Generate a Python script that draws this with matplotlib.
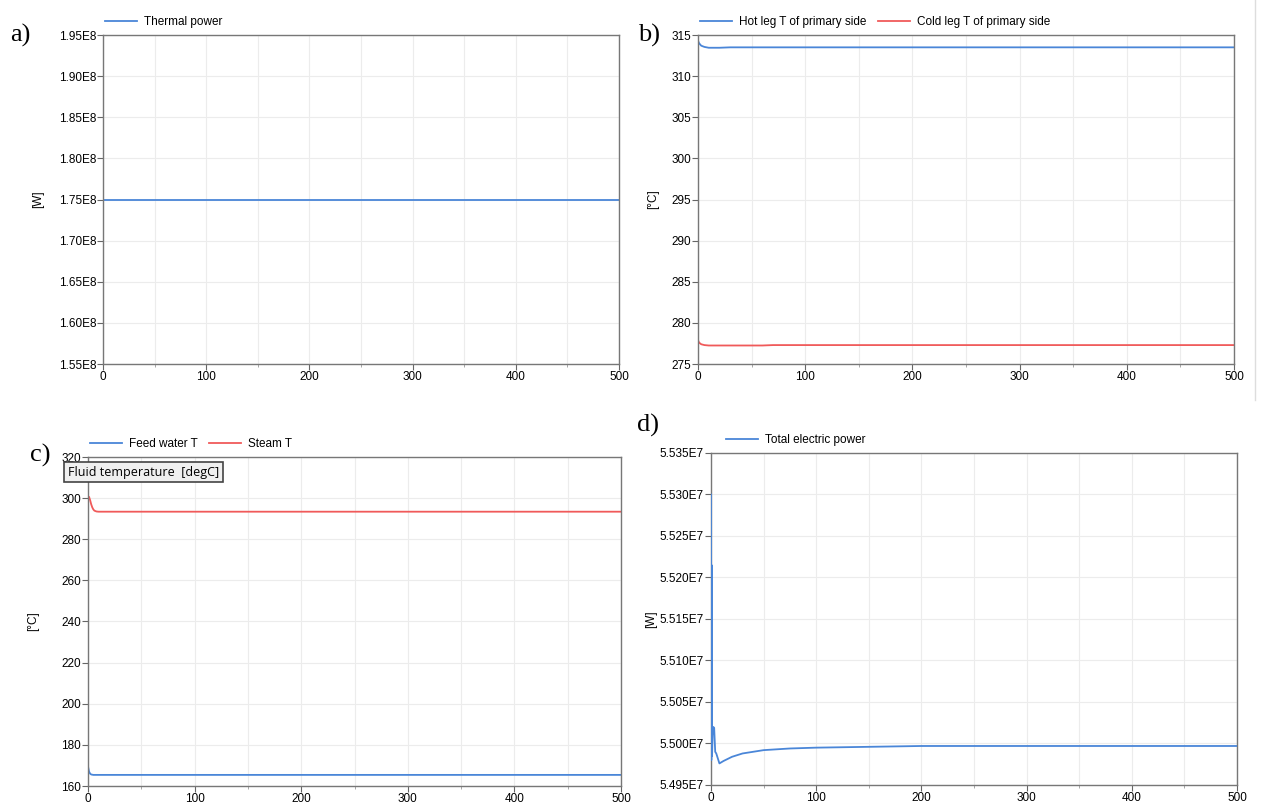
import numpy as np
import matplotlib.pyplot as plt
from matplotlib.ticker import MultipleLocator, FuncFormatter
from matplotlib.lines import Line2D

plt.rcParams['font.family'] = ['Liberation Sans', 'DejaVu Sans']

# a) thermal power
t_a = [0, 500]
p_thermal = [1.75e8, 1.75e8]

# b) primary side temperatures
t_b = [0, 1, 3, 6, 10, 20, 30, 60, 100, 500]
hot_leg = [314.3, 314.0, 313.7, 313.55, 313.45, 313.45, 313.5, 313.5, 313.5, 313.5]
t_b2 = [0, 1, 3, 6, 10, 20, 60, 70, 100, 500]
cold_leg = [277.9, 277.6, 277.4, 277.3, 277.25, 277.25, 277.25, 277.3, 277.3, 277.3]

# c) steam generator temperatures
t_c = [0, 1, 2, 3, 4, 5, 6, 8, 10, 500]
steam_t = [300.8, 300.6, 299.0, 297.0, 295.5, 294.5, 293.9, 293.5, 293.4, 293.4]
feed_t = [169.5, 167.0, 166.0, 165.6, 165.5, 165.4, 165.4, 165.4, 165.4, 165.4]

# d) total electric power
t_d = [0, 0.3, 0.6, 1.0, 1.5, 2.0, 3.0, 4.0, 5.0, 8.0, 12, 20, 30, 50, 75, 100, 150, 200, 300, 500]
p_elec = [5.5300e7, 5.4980e7, 5.5215e7, 5.4985e7, 5.5010e7, 5.5020e7, 5.5019e7, 5.4990e7,
          5.4988e7, 5.4976e7, 5.4979e7, 5.4984e7, 5.4988e7, 5.4992e7, 5.4994e7, 5.4995e7,
          5.4996e7, 5.4997e7, 5.4997e7, 5.4997e7]

blue = '#4a86d8'
red = '#f05a5a'

fig = plt.figure(figsize=(12.62, 8.05), dpi=100)
W, H = 1262, 805


def make_ax(l, t, r, b):
    return fig.add_axes([l / W, 1 - b / H, (r - l) / W, (b - t) / H])


def style(ax, ylo, yhi, ystep, fmt, ylabel, label_x):
    ax.set_xlim(0, 500)
    ax.set_ylim(ylo, yhi)
    ax.xaxis.set_major_locator(MultipleLocator(100))
    ax.xaxis.set_minor_locator(MultipleLocator(50))
    ax.yaxis.set_major_locator(MultipleLocator(ystep))
    ax.yaxis.set_major_formatter(FuncFormatter(fmt))
    ax.grid(True, which='both', axis='x', color='#ececec', lw=0.8)
    ax.grid(True, which='major', axis='y', color='#ececec', lw=0.8)
    ax.tick_params(which='major', length=4, color='#666666', labelsize=8.5, pad=1)
    ax.tick_params(which='minor', length=2, color='#999999')
    for s in ax.spines.values():
        s.set_color('#777777')
        s.set_linewidth(1.0)
    ax.set_ylabel(ylabel, fontsize=8.5)
    # label position in pixels -> axes fraction
    pos = ax.get_position()
    ax.yaxis.set_label_coords((label_x / W - pos.x0) / pos.width, 0.5)
    ax.set_axisbelow(True)


def leg(ax):
    ax.legend(loc='lower left', bbox_to_anchor=(-0.01, 1.0), ncol=2, frameon=False,
              fontsize=8.5, handlelength=2.7, handletextpad=0.6, columnspacing=1.0,
              borderaxespad=0.2)


# a)
ax_a = make_ax(103, 35, 619, 364)
ax_a.plot(t_a, p_thermal, color=blue, lw=1.3, label='Thermal power')
style(ax_a, 1.55e8, 1.95e8, 0.05e8, lambda v, p: f'{v / 1e8:.2f}E8', '[W]', 44)
leg(ax_a)

# b)
ax_b = make_ax(698, 35, 1234, 364)
ax_b.plot(t_b, hot_leg, color=blue, lw=1.3, label='Hot leg T of primary side')
ax_b.plot(t_b2, cold_leg, color=red, lw=1.3, label='Cold leg T of primary side')
style(ax_b, 275, 315, 5, lambda v, p: f'{v:.0f}', '[°C]', 659)
leg(ax_b)

# c)
ax_c = make_ax(88, 457, 621, 786)
ax_c.plot(t_c, feed_t, color=blue, lw=1.3, label='Feed water T')
ax_c.plot(t_c, steam_t, color=red, lw=1.3, label='Steam T')
style(ax_c, 160, 320, 20, lambda v, p: f'{v:.0f}', '[°C]', 39)
leg(ax_c)
fig.text(68 / W, 1 - 472 / H, 'Fluid temperature  [degC]', fontsize=9,
         family=['Open Sans', 'DejaVu Sans'], va='center', ha='left',
         bbox=dict(boxstyle='square,pad=0.3', fc='#f0f0f0', ec='#444444', lw=1.2))

# d)
ax_d = make_ax(711, 453, 1237, 785)
ax_d.plot(t_d, p_elec, color=blue, lw=1.3, label='Total electric power', zorder=3)
style(ax_d, 5.495e7, 5.535e7, 0.005e7, lambda v, p: f'{v / 1e7:.3f}E7', '[W]', 657)
ax_d.legend(loc='lower left', bbox_to_anchor=(0.015, 1.0), frameon=False,
            fontsize=8.5, handlelength=2.7, handletextpad=0.6, borderaxespad=0.2)

# panel letters
for x, y, s in [(10, 35, 'a)'), (638, 35, 'b)'), (30, 455, 'c)'), (637, 425, 'd)')]:
    fig.text(x / W, 1 - y / H, s, fontsize=19, family='Liberation Serif', va='center', ha='left')

fig.add_artist(Line2D([1255 / W, 1255 / W], [1, 1 - 400 / H], color='#dddddd', lw=1))

fig.savefig('out.png', dpi=100)
